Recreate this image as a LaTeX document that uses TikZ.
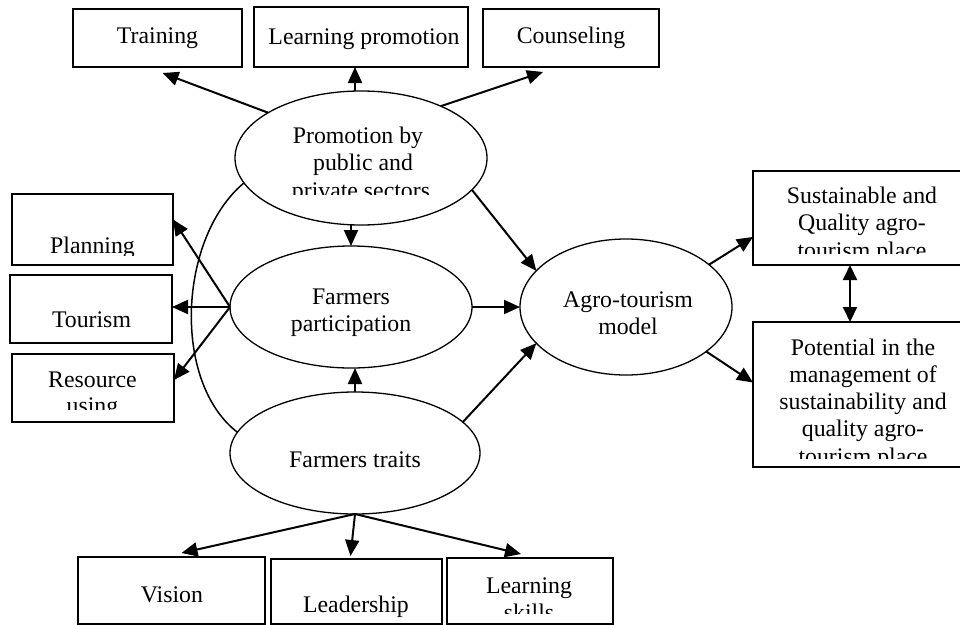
\documentclass[tikz,border=0pt]{standalone}
\usepackage{fontspec}
\setmainfont{Liberation Serif}
\usetikzlibrary{arrows.meta,shapes.geometric}
\begin{document}
\begin{tikzpicture}[x=1pt,y=-1pt,
  box/.style={draw,line width=1.6pt,rectangle,inner sep=0pt,outer sep=0pt},
  ell/.style={draw,line width=1.3pt,ellipse,inner sep=0pt,outer sep=0pt},
  lbl/.style={inner sep=0pt,anchor=base,font=\fontsize{23.8}{27}\selectfont},
  arr/.style={line width=2pt,-{Triangle[length=16pt,width=14pt]}},
  darr/.style={line width=2pt,{Triangle[length=15pt,width=14pt]}-{Triangle[length=15pt,width=14pt]}},
  brace/.style={line width=1.5pt},
]
\clip (0,0) rectangle (960,624);
\fill[white] (0,0) rectangle (960,624);

% boxes
\node[box,minimum width=169pt,minimum height=58pt] (train) at (157.5,38) {};
\node[box,minimum width=214pt,minimum height=60pt] (lprom) at (361,37) {};
\node[box,minimum width=176pt,minimum height=58pt] (couns) at (571,38) {};
\node[box,minimum width=161pt,minimum height=71pt] (plan) at (92.5,229.5) {};
\node[box,minimum width=162pt,minimum height=68pt] (tour) at (91,309) {};
\node[box,minimum width=162pt,minimum height=68pt] (res) at (93,388) {};
\node[box,minimum width=222pt,minimum height=94pt] (sust) at (864,218) {};
\node[box,minimum width=222pt,minimum height=145pt] (pot) at (864,394.5) {};
\node[box,minimum width=187pt,minimum height=67pt] (vis) at (171.5,590.5) {};
\node[box,minimum width=171pt,minimum height=65pt] (lead) at (356.5,591.5) {};
\node[box,minimum width=166pt,minimum height=66pt] (lskill) at (530,591) {};

% ellipses
\node[ell,minimum width=252pt,minimum height=134pt] (prom) at (361,158) {};
\node[ell,minimum width=242pt,minimum height=122pt] (part) at (351,307) {};
\node[ell,minimum width=250pt,minimum height=122pt] (trait) at (355,453) {};
\node[ell,minimum width=212pt,minimum height=136pt] (agro) at (626,307) {};

% texts
\node[lbl] (ttrain) at (157.5,43) {Training};
\node[lbl] (tlprom) at (364,44) {Learning promotion};
\node[lbl] (tcouns) at (571,43) {Counseling};
\node[lbl] (tprom1) at (358,143) {Promotion by};
\node[lbl] (tprom2) at (363,170) {public and};
\begin{scope}
  \clip (250,100) rectangle (470,194);
  \node[lbl] (tprom3) at (361,198) {private sectors};
\end{scope}
\begin{scope}
  \clip (14,196) rectangle (171,255);
  \node[lbl] (tplan) at (92.5,253) {Planning};
\end{scope}
\node[lbl] (ttour) at (91.5,327) {Tourism};
\node[lbl] (tres1) at (92.5,387) {Resource};
\begin{scope}
  \clip (14,356) rectangle (172,409);
  \node[lbl] (tres2) at (92.5,413) {using};
\end{scope}
\node[lbl] (tpart1) at (351,304) {Farmers};
\node[lbl] (tpart2) at (351,331) {participation};
\node[lbl] (tagro1) at (628,307) {Agro-tourism};
\node[lbl] (tagro2) at (628,334) {model};
\node[lbl] (ttrait) at (355,467) {Farmers traits};
\node[lbl] (tsust1) at (862,203) {Sustainable and};
\node[lbl] (tsust2) at (862,230) {Quality agro-};
\begin{scope}
  \clip (755,173) rectangle (960,253);
  \node[lbl] (tsust3) at (862,258) {tourism place};
\end{scope}
\node[lbl] (tpot1) at (863,355) {Potential in the};
\node[lbl] (tpot2) at (863,382) {management of};
\node[lbl] (tpot3) at (863,409) {sustainability and};
\node[lbl] (tpot4) at (863,436) {quality agro-};
\begin{scope}
  \clip (755,324) rectangle (960,458);
  \node[lbl] (tpot5) at (863,464) {tourism place};
\end{scope}
\node[lbl] (tvis) at (172,602) {Vision};
\node[lbl] (tlead) at (356,612) {Leadership};
\node[lbl] (tls1) at (529,593) {Learning};
\begin{scope}
  \clip (449,560) rectangle (611,613);
  \node[lbl] (tls2) at (529,620) {skills};
\end{scope}

% connectors from promotion
\draw[arr] (prom.154) -- ([xshift=5pt,yshift=-6pt]train.south);
\draw[arr] ([xshift=-6pt]prom.north) -- ([xshift=-6pt]prom.north |- lprom.south);
\draw[arr] (prom.33) -- ([xshift=-28pt,yshift=-5pt]couns.south);
\draw[arr] (prom.south -| part.north) -- (part.north);
\draw[arr] (prom.-16) -- (agro.158);

% from participation
\draw[arr] (part.west) -- ([yshift=10pt]plan.east);
\draw[arr] (part.west) -- (part.west -| tour.east);
\draw[arr] (part.west) -- ([yshift=8pt]res.east);
\draw[arr] (part.east) -- (agro.west);

% from traits
\draw[arr] (trait.north) -- (trait.north |- part.south);
\draw[arr] (trait.16) -- (agro.202);
\draw[arr] (trait.south) -- ([xshift=10pt,yshift=4pt]vis.north);
\draw[arr] (trait.south) -- ([xshift=-6pt,yshift=3pt]lead.north);
\draw[arr] (trait.south) -- ([xshift=-9pt,yshift=4pt]lskill.north);

% from agro-tourism model
\draw[arr] (agro.27) -- ([yshift=-19pt]sust.west);
\draw[arr] (agro.-29) -- ([yshift=12pt]pot.west);
\draw[darr] ([xshift=-14pt]sust.south) -- ([xshift=-14pt]pot.north);

% bracket curve linking promotion and traits
\draw[brace] (prom.192) .. controls (178,238) and (172,382) .. (trait.170);
\end{tikzpicture}
\end{document}
